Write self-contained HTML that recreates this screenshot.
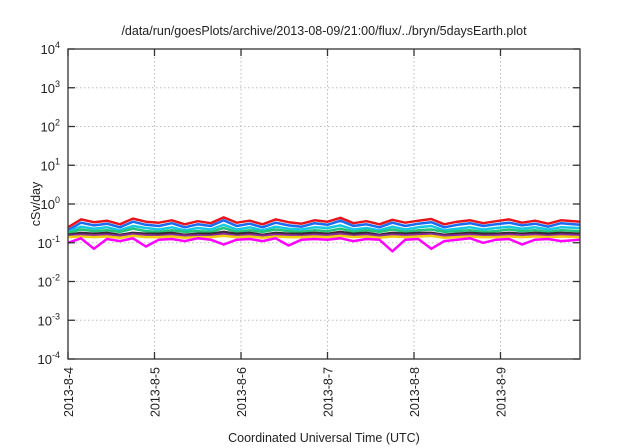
<!DOCTYPE html>
<html><head><meta charset="utf-8"><style>
body{margin:0;background:#fff;}
svg{display:block;font-family:"Liberation Sans",sans-serif;}
</style></head><body>
<svg id="chart" width="640" height="448">
<text x="324" y="35" text-anchor="middle" font-size="12.5" fill="#222">/data/run/goesPlots/archive/2013-08-09/21:00/flux/../bryn/5daysEarth.plot</text>
<g id="grid"></g>
<g id="series"></g>
<rect x="68" y="49" width="512" height="310" fill="none" stroke="#333" stroke-width="1.3"/>
<g id="axes"></g>
<text transform="translate(40,204) rotate(-90)" text-anchor="middle" font-size="12.5" fill="#222">cSv/day</text>
<text x="324" y="442" text-anchor="middle" font-size="12.5" fill="#222">Coordinated Universal Time (UTC)</text>
</svg>
<script>
const xTickLabels=["2013-8-4","2013-8-5","2013-8-6","2013-8-7","2013-8-8","2013-8-9"];
const yTickExps=[-4,-3,-2,-1,0,1,2,3,4];
const times=[0,0.15,0.3,0.45,0.6,0.75,0.9,1.05,1.2,1.35,1.5,1.65,1.8,1.95,2.1,2.25,2.4,2.55,2.7,2.85,3.0,3.15,3.3,3.45,3.6,3.75,3.9,4.05,4.2,4.35,4.5,4.65,4.8,4.95,5.1,5.25,5.4,5.55,5.7,5.92];
const red=[0.25,0.4,0.34,0.37,0.3,0.42,0.35,0.33,0.38,0.3,0.36,0.32,0.45,0.33,0.37,0.3,0.4,0.34,0.31,0.38,0.35,0.44,0.32,0.36,0.3,0.39,0.33,0.37,0.41,0.3,0.35,0.38,0.32,0.36,0.4,0.33,0.37,0.31,0.38,0.35];
const blue=[0.21,0.33,0.28,0.31,0.25,0.35,0.29,0.27,0.32,0.25,0.3,0.27,0.38,0.27,0.31,0.25,0.33,0.28,0.26,0.32,0.29,0.37,0.27,0.3,0.25,0.33,0.27,0.31,0.34,0.25,0.29,0.32,0.27,0.3,0.33,0.28,0.31,0.26,0.32,0.29];
const cyan=[0.19,0.26,0.23,0.25,0.21,0.27,0.24,0.22,0.25,0.21,0.24,0.22,0.29,0.22,0.25,0.21,0.26,0.23,0.22,0.25,0.24,0.28,0.22,0.24,0.21,0.26,0.22,0.25,0.27,0.21,0.23,0.25,0.22,0.24,0.26,0.23,0.25,0.22,0.25,0.24];
const green=[0.18,0.22,0.2,0.21,0.19,0.23,0.2,0.19,0.21,0.19,0.2,0.19,0.24,0.19,0.21,0.19,0.22,0.2,0.19,0.21,0.2,0.23,0.19,0.21,0.19,0.22,0.19,0.21,0.22,0.19,0.2,0.21,0.19,0.2,0.22,0.2,0.21,0.19,0.21,0.2];
const dark=[0.16,0.18,0.17,0.18,0.16,0.18,0.17,0.17,0.18,0.16,0.17,0.17,0.19,0.17,0.18,0.16,0.18,0.17,0.17,0.18,0.17,0.19,0.17,0.18,0.16,0.18,0.17,0.18,0.18,0.16,0.17,0.18,0.17,0.17,0.18,0.17,0.18,0.17,0.18,0.17];
const purple=[0.15,0.16,0.155,0.16,0.15,0.165,0.155,0.15,0.16,0.15,0.155,0.15,0.17,0.15,0.16,0.15,0.16,0.155,0.15,0.16,0.155,0.17,0.15,0.16,0.15,0.16,0.155,0.16,0.165,0.15,0.155,0.16,0.15,0.155,0.16,0.155,0.16,0.15,0.16,0.155];
const yellow=[0.14,0.145,0.14,0.145,0.135,0.15,0.14,0.14,0.145,0.135,0.14,0.14,0.15,0.14,0.145,0.135,0.145,0.14,0.14,0.145,0.14,0.15,0.14,0.145,0.135,0.145,0.14,0.145,0.15,0.135,0.14,0.145,0.14,0.14,0.145,0.14,0.145,0.14,0.145,0.14];
const magenta=[0.1,0.13,0.07,0.125,0.11,0.13,0.08,0.12,0.125,0.11,0.13,0.12,0.09,0.12,0.125,0.11,0.13,0.085,0.12,0.125,0.12,0.13,0.11,0.125,0.12,0.06,0.12,0.125,0.07,0.11,0.12,0.13,0.1,0.12,0.125,0.09,0.12,0.125,0.11,0.12];
const seriesList=[["red-series",red,"#e8141c"],["blue-series",blue,"#1a6cf0"],["cyan-series",cyan,"#17c8e0"],["green-series",green,"#22c47a"],["dark-series",dark,"#3a2a30"],["purple-series",purple,"#8a2ca0"],["yellow-series",yellow,"#f0d010"],["magenta-series",magenta,"#ff00ff"]];
const L=68,R=580,T=49,B=359,dayPx=86.5;
const NS="http://www.w3.org/2000/svg";
function xs(d){return L+d*dayPx;}
function ys(v){return B-(Math.log10(v)+4)*(B-T)/8;}
function mk(tag,attrs,parent){const e=document.createElementNS(NS,tag);for(const k in attrs)e.setAttribute(k,attrs[k]);parent.appendChild(e);return e;}
const grid=document.getElementById("grid"),axes=document.getElementById("axes"),ser=document.getElementById("series");
yTickExps.forEach(p=>{
 const y=ys(Math.pow(10,p));
 if(p>-4&&p<4){const g=mk("line",{x1:L,x2:R,y1:y,y2:y,stroke:"#bbb","stroke-dasharray":"1.5,2.5","stroke-width":"1"},grid);
 
 }
 mk("line",{x1:L,x2:L+7,y1:y,y2:y,stroke:"#333","stroke-width":"1.3"},axes);
 mk("line",{x1:R,x2:R-7,y1:y,y2:y,stroke:"#333","stroke-width":"1.3"},axes);
 const t=mk("text",{x:L-8,y:y+5,"text-anchor":"end","font-size":"13",fill:"#222"},axes);
 
 
 t.textContent="10";
 const s=mk("tspan",{dy:"-6","font-size":"9"},t);s.textContent=String(p);
});
xTickLabels.forEach((lab,i)=>{
 const x=xs(i);
 if(i>0){const g=mk("line",{x1:x,x2:x,y1:T,y2:B,stroke:"#bbb","stroke-dasharray":"1.5,2.5","stroke-width":"1"},grid);
 
 }
 mk("line",{x1:x,x2:x,y1:B,y2:B-7,stroke:"#333","stroke-width":"1.3"},axes);
 mk("line",{x1:x,x2:x,y1:T,y2:T+7,stroke:"#333","stroke-width":"1.3"},axes);
 const t=mk("text",{transform:`translate(${x+5},${B+8}) rotate(-90)`,"text-anchor":"end","font-size":"12.5",fill:"#222"},axes);
 
 
 t.textContent=lab;
});
seriesList.forEach(([name,vals,col])=>{
 const d=vals.map((v,i)=>(i?"L":"M")+xs(times[i]).toFixed(1)+","+ys(v).toFixed(1)).join(" ");
 const p=mk("path",{d:d,fill:"none",stroke:col,"stroke-width":"2.5","stroke-linejoin":"round"},ser);
 
 
});
</script>
</body></html>
